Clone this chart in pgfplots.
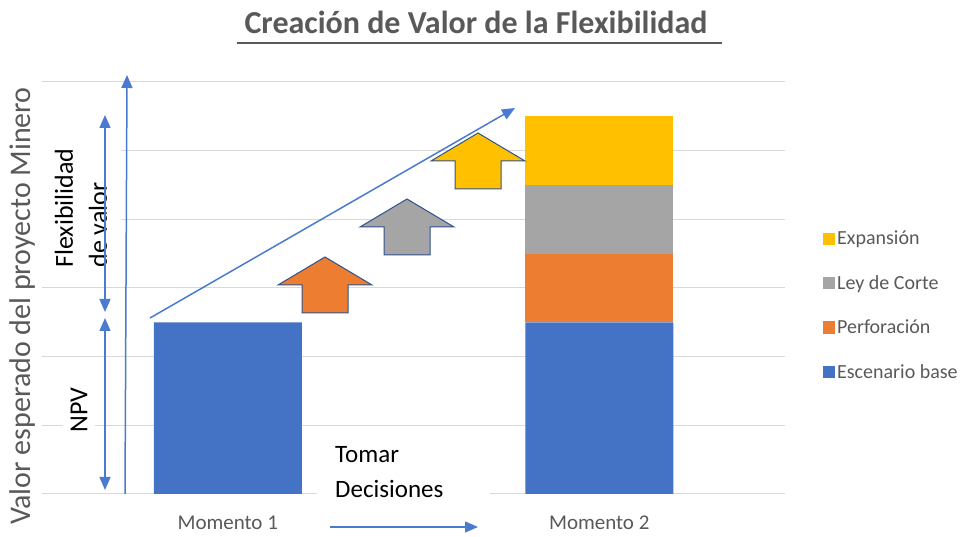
\documentclass[border=0pt]{standalone}
\usepackage{pgfplots}
\pgfplotsset{compat=1.18}
\usepackage{fontspec}
\setmainfont{Carlito}
\usetikzlibrary{arrows.meta}
\definecolor{cblue}{HTML}{4472C4}
\definecolor{corange}{HTML}{ED7D31}
\definecolor{cgray}{HTML}{A5A5A5}
\definecolor{cyellow}{HTML}{FFC000}
\definecolor{gridgray}{HTML}{D9D9D9}
\definecolor{labelgray}{HTML}{595959}
\definecolor{outl}{HTML}{2F528F}
\definecolor{arrblue}{HTML}{4A7BD0}
\begin{document}
\begin{tikzpicture}[x=1pt,y=1pt]
\path[use as bounding box] (0,0) rectangle (974,537);
\begin{axis}[
  at={(42pt,43pt)}, anchor=south west,
  scale only axis, width=743pt, height=412pt,
  xmin=-0.5, xmax=1.5, ymin=0, ymax=6,
  ybar stacked, bar width=148pt,
  xtick={0,1}, xticklabels={Momento 1, Momento 2},
  ytick={0,1,2,3,4,5,6}, yticklabels={},
  ymajorgrids, grid style={draw=gridgray, line width=1pt},
  axis line style={draw=none},
  major tick length=0pt,
  xticklabel style={font=\fontsize{21}{24}\selectfont, text=labelgray, anchor=center, yshift=-29pt},
  clip=false,
  reverse legend,
  legend cell align=left,
  legend style={draw=none, fill=none, at={(1.047,0.648)}, anchor=north west,
    font=\fontsize{20}{24}\selectfont, text=labelgray, row sep=25pt,
    /tikz/every even column/.append style={column sep=0pt}},
  legend image code/.code={\fill[#1] (0pt,-6pt) rectangle (12pt,6pt);},
]
\addplot[fill=cblue, draw=none] coordinates {(0,2.5) (1,2.5)};
\addplot[fill=corange, draw=none] coordinates {(0,0) (1,1)};
\addplot[fill=cgray, draw=none] coordinates {(0,0) (1,1)};
\addplot[fill=cyellow, draw=none] coordinates {(0,0) (1,1)};
\legend{Escenario base, Perforación, Ley de Corte, Expansión}
\end{axis}
% title
\node[font=\fontsize{32}{36}\selectfont\bfseries, text=labelgray, anchor=base] at (476,503) {Creación de Valor de la Flexibilidad};
\draw[labelgray, line width=2pt] (237,494) -- (722,494);
% y label
\node[rotate=90, font=\fontsize{30}{32}\selectfont, text=labelgray] at (23,231) {Valor esperado del proyecto Minero};
% text boxes
\node[rotate=90, fill=white, align=left, font=\fontsize{26}{34}\selectfont, inner sep=4pt, minimum height=80pt] at (81,329) {Flexibilidad\\de valor};
\node[rotate=90, fill=white, font=\fontsize{26}{30}\selectfont, inner xsep=8pt, inner ysep=8pt] at (79,127) {NPV};
\fill[white] (317,32) rectangle (490,97);
\node[anchor=base west, inner sep=0pt, font=\fontsize{25}{30}\selectfont] at (335,74) {Tomar};
\node[anchor=base west, inner sep=0pt, font=\fontsize{25}{30}\selectfont] at (335,39) {Decisiones};
% arrows
\draw[arrblue, line width=1.5pt, -{Triangle[length=13pt,width=11pt]}] (125,43) -- (127,462);
\draw[arrblue, line width=1.5pt, {Triangle[length=13pt,width=11pt]}-{Triangle[length=13pt,width=11pt]}] (105,225) -- (105,422);
\draw[arrblue, line width=1.5pt, {Triangle[length=13pt,width=11pt]}-{Triangle[length=13pt,width=11pt]}] (105,47) -- (105,219);
\draw[arrblue, line width=1.5pt, -{Triangle[length=13pt,width=11pt]}] (330,10) -- (478,10);
% block arrows
\foreach \cx/\by/\col in {325/224/corange, 407/282/cgray, 478/348/cyellow}{
  \draw[fill=\col, draw=outl, line width=1pt, shift={(\cx,\by)}]
    (-23,0) -- (23,0) -- (23,28) -- (47,28) -- (0,56) -- (-47,28) -- (-23,28) -- cycle;
}
\draw[arrblue, line width=1.5pt, -{Triangle[length=13pt,width=11pt]}] (150,219) -- (515,429);
\end{tikzpicture}
\end{document}
